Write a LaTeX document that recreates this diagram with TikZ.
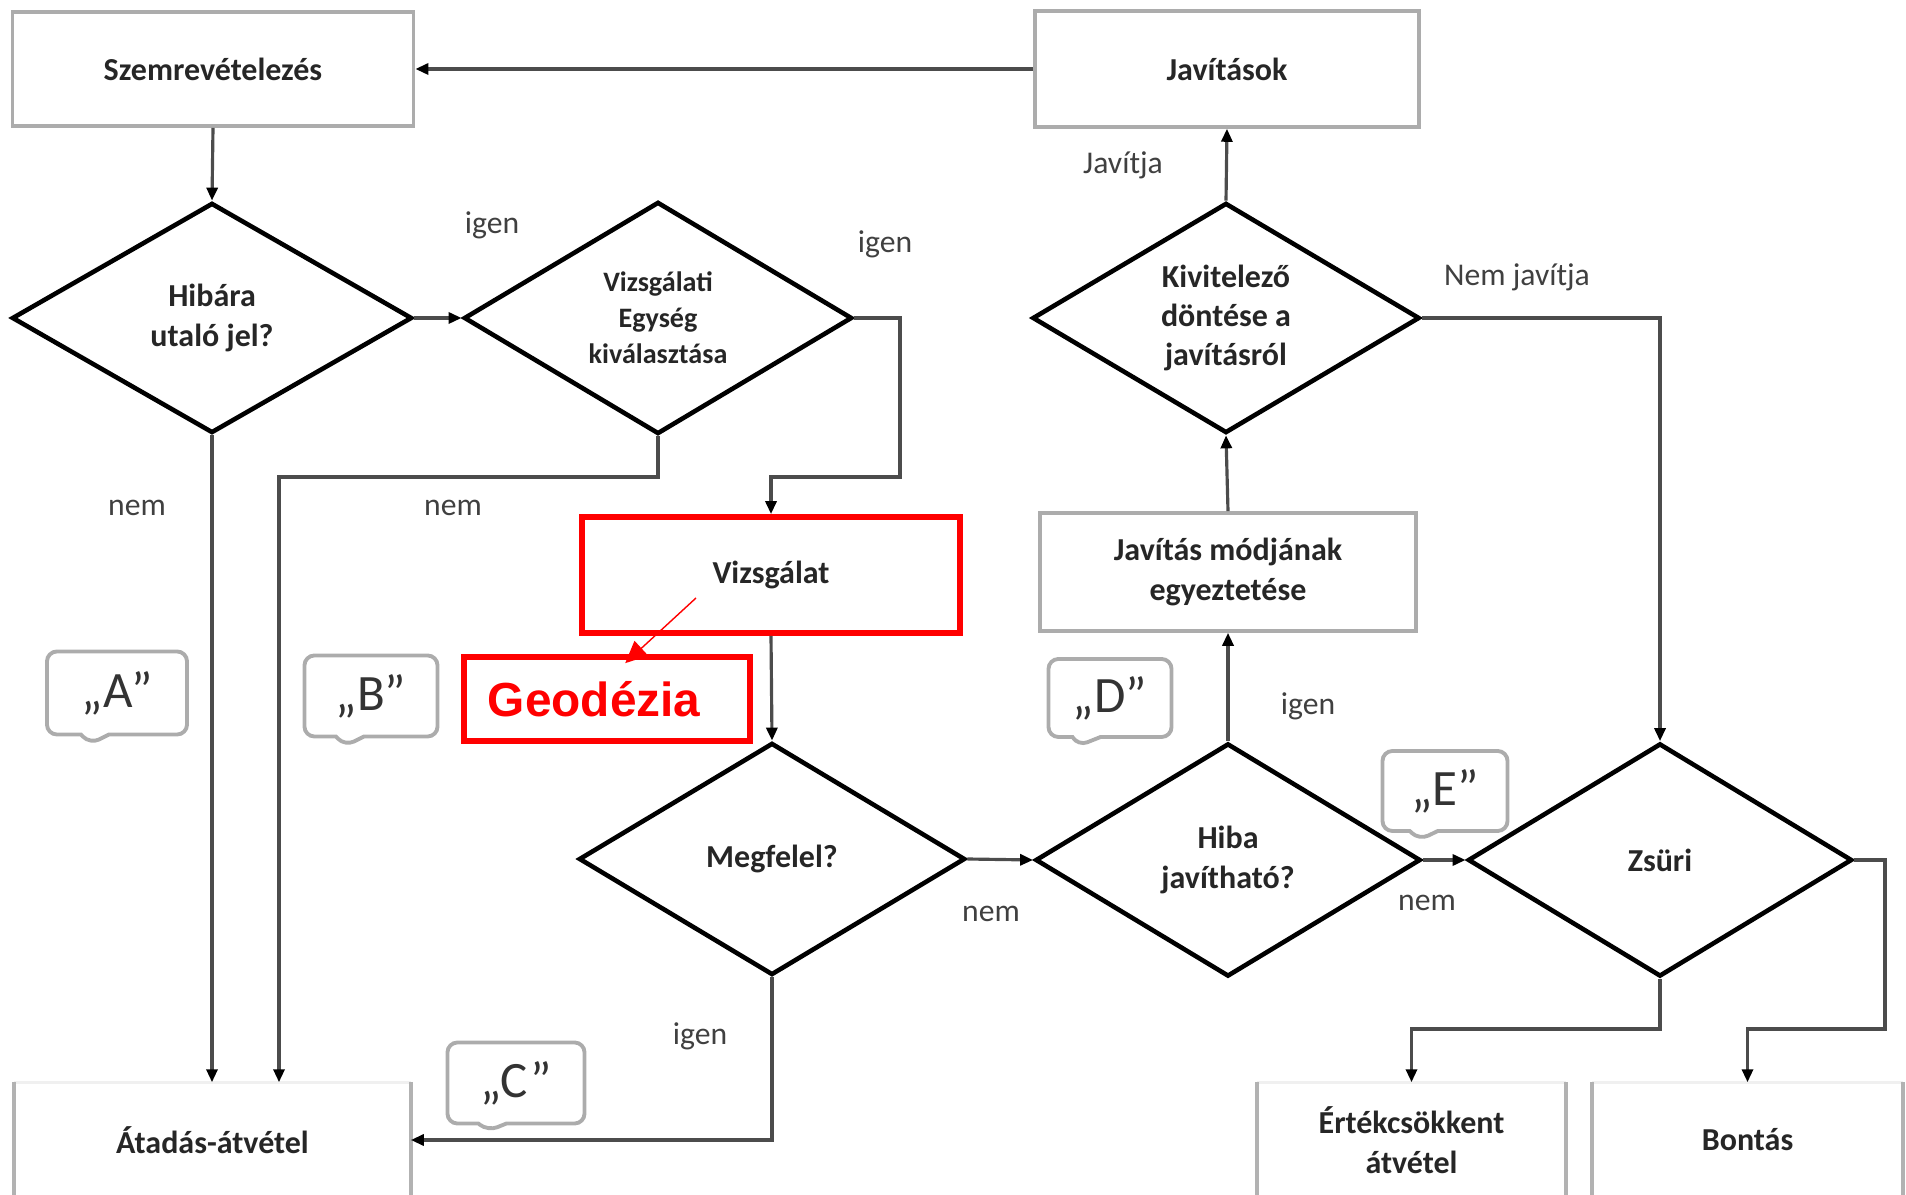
\documentclass[tikz,border=0pt]{standalone}
\usepackage{fontspec}
\setmainfont{Carlito}
\newfontfamily\geofont{Liberation Sans}
\usetikzlibrary{shapes.geometric,shapes.callouts,arrows.meta}
\tikzset{
  box/.style={draw=gray!65, line width=1pt, inner sep=2pt, align=center, text=black!85,
    font=\bfseries\fontsize{9.1}{11.2}\selectfont},
  endbox/.style={inner sep=2pt, minimum height=1.14cm, align=center, text=black!85,
    font=\bfseries\fontsize{9.1}{11.2}\selectfont},
  redbox/.style={draw=red, line width=1.6pt, inner sep=2pt, align=center, text=black!85,
    font=\bfseries\fontsize{9.1}{11.2}\selectfont},
  decision/.style={diamond, aspect=1.68, draw=black, line width=1.3pt, inner sep=1pt,
    align=center, text=black!85, font=\bfseries\fontsize{9.1}{11.2}\selectfont},
  conn/.style={draw=black!70, line width=0.9pt, -{Triangle[length=0.13cm,width=0.11cm,color=black]}},
  lbl/.style={text=black!75, font=\fontsize{9}{11}\selectfont},
  bubble/.style={rectangle callout, draw=gray!65, line width=1.1pt, rounded corners=0.1cm,
    callout pointer width=0.28cm, text=black!80, font=\fontsize{14.5}{16}\selectfont}
}
\begin{document}
\begin{tikzpicture}[x=0.01cm,y=-0.01cm]
\useasboundingbox (0,0) rectangle (1906,1195);
\node[box, minimum width=4.01cm, minimum height=1.14cm] (szem) at (213,69) {Szemrevételezés};
\node[box, minimum width=3.84cm, minimum height=1.16cm] (jav) at (1227,69) {Javítások};
\node[decision, minimum width=4cm, minimum height=2.3cm] (hib) at (212,318) {Hibára\\utaló jel?};
\node[decision, minimum width=3.88cm, minimum height=2.32cm,
  font=\bfseries\fontsize{8}{10.2}\selectfont] (vizs) at (658,318) {Vizsgálati\\Egység\\kiválasztása};
\node[decision, minimum width=3.87cm, minimum height=2.3cm] (kiv) at (1226,318) {Kivitelező\\döntése a\\javításról};
\node[redbox, minimum width=3.78cm, minimum height=1.16cm] (vizsg) at (771,575) {Vizsgálat};
\node[box, minimum width=3.76cm, minimum height=1.18cm] (jmod) at (1228,572) {Javítás módjának\\egyeztetése};
\node[redbox, text=red, text width=2.38cm, align=left, inner xsep=0.24cm, minimum height=0.84cm,
  font=\geofont\bfseries\fontsize{13.6}{15}\selectfont] (geo) at (607,699) {Geodézia};
\node[decision, minimum width=3.86cm, minimum height=2.32cm] (meg) at (772,859) {Megfelel?};
\node[decision, minimum width=3.85cm, minimum height=2.33cm] (hja) at (1228,860) {Hiba\\javítható?};
\node[decision, minimum width=3.84cm, minimum height=2.33cm] (zs) at (1660,860) {Zsüri};
\node[endbox, minimum width=3.95cm] (ata) at (212.5,1140) {Átadás-átvétel};
\node[endbox, minimum width=3.07cm] (ert) at (1411.5,1140) {Értékcsökkent\\átvétel};
\node[endbox, minimum width=3.09cm] (bon) at (1747.5,1140) {Bontás};
\foreach \n in {ata,ert,bon} {
  \draw[gray!12, line width=1pt] (\n.north west) -- (\n.north east);
  \draw[gray!60, line width=1pt] (\n.north west) -- (\n.south west) (\n.north east) -- (\n.south east);
}
\node[bubble, minimum width=1.40cm, minimum height=0.83cm, callout absolute pointer={(90,744)}] (ca) at (117,693) {„A”};
\node[bubble, minimum width=1.33cm, minimum height=0.81cm, callout absolute pointer={(345,746)}] (cb) at (371,696) {„B”};
\node[bubble, minimum width=1.37cm, minimum height=0.81cm, callout absolute pointer={(488,1131)}] (cc) at (516,1083) {„C”};
\node[bubble, minimum width=1.23cm, minimum height=0.78cm, callout absolute pointer={(1078,746)}] (cd) at (1110,698) {„D”};
\node[bubble, minimum width=1.25cm, minimum height=0.80cm, callout absolute pointer={(1419,840)}] (ce) at (1445,791) {„E”};
\coordinate (k1) at (900,477);
\coordinate (k2) at (279,477);
\coordinate (k3) at (1660,1029);
\coordinate (k4) at (1885,1029);
\coordinate (geofrom) at (696,598);
\draw[conn] (jav.west) -- (szem.east);
\draw[conn] (szem.south) -- (hib.north);
\draw[conn] (hib.east) -- (vizs.west);
\draw[conn] (vizs.east) -| (k1) -| (vizsg.north);
\draw[conn] (vizs.south) |- (k2) -- (k2 |- ata.north);
\draw[conn] (hib.south) -- (hib.south |- ata.north);
\draw[conn] (vizsg.south) -- (meg.north);
\draw[conn] (meg.south) |- (ata.east);
\draw[conn] (meg.east) -- (hja.west);
\draw[conn] (hja.north) -- (jmod.south);
\draw[conn] (jmod.north) -- (kiv.south);
\draw[conn] (kiv.north) -- (jav.south);
\draw[conn] (kiv.east) -| (zs.north);
\draw[conn] (hja.east) -- (zs.west);
\draw[conn] (zs.south) -- (k3) -| (ert.north);
\draw[conn] (zs.east) -| (k4) -| (bon.north);
\draw[red, line width=0.4pt, -{Triangle[length=0.22cm,width=0.2cm]}] (geofrom) -- ([xshift=1.64cm,yshift=-0.09cm]geo.north west);
\node[lbl] (l1) at (492,225) {igen};
\node[lbl] (l2) at (885,244) {igen};
\node[lbl] (l3) at (137,508) {nem};
\node[lbl] (l4) at (453,508) {nem};
\node[lbl] (l5) at (700,1036) {igen};
\node[lbl] (l6) at (991,914) {nem};
\node[lbl] (l7) at (1308,706) {igen};
\node[lbl] (l8) at (1427,903) {nem};
\node[lbl] (l9) at (1123,165) {Javítja};
\node[lbl] (l10) at (1517,277) {Nem javítja};
\end{tikzpicture}
\end{document}
